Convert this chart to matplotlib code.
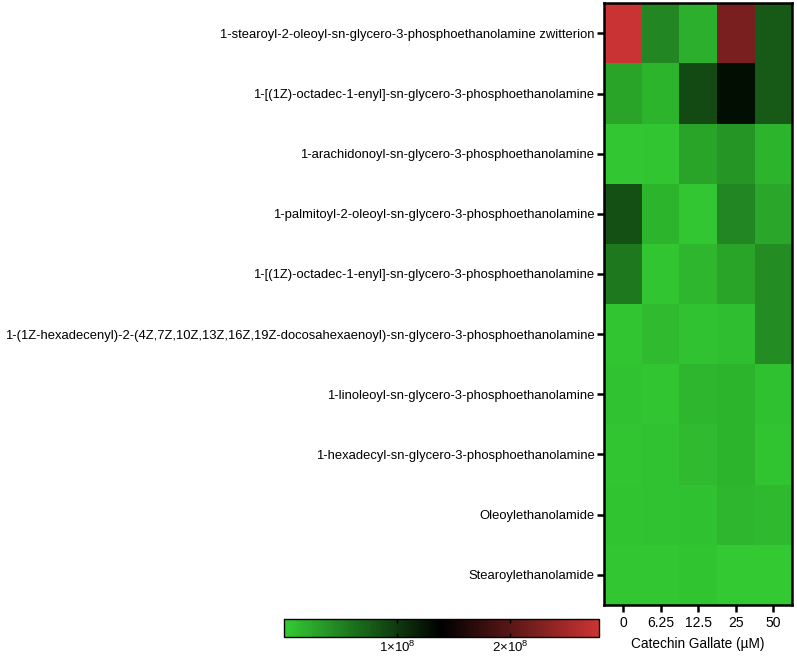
import numpy as np
import matplotlib
matplotlib.use("Agg")
import matplotlib.pyplot as plt
from matplotlib.colors import LinearSegmentedColormap

plt.rcParams['font.family'] = ['Liberation Sans', 'DejaVu Sans']
plt.rcParams['mathtext.fontset'] = 'custom'
plt.rcParams['mathtext.rm'] = 'Liberation Sans'
plt.rcParams['mathtext.it'] = 'Liberation Sans'

# lipid names (top to bottom)
lipids = [
    "1-stearoyl-2-oleoyl-sn-glycero-3-phosphoethanolamine zwitterion",
    "1-[(1Z)-octadec-1-enyl]-sn-glycero-3-phosphoethanolamine",
    "1-arachidonoyl-sn-glycero-3-phosphoethanolamine",
    "1-palmitoyl-2-oleoyl-sn-glycero-3-phosphoethanolamine",
    "1-[(1Z)-octadec-1-enyl]-sn-glycero-3-phosphoethanolamine",
    "1-(1Z-hexadecenyl)-2-(4Z,7Z,10Z,13Z,16Z,19Z-docosahexaenoyl)-sn-glycero-3-phosphoethanolamine",
    "1-linoleoyl-sn-glycero-3-phosphoethanolamine",
    "1-hexadecyl-sn-glycero-3-phosphoethanolamine",
    "Oleoylethanolamide",
    "Stearoylethanolamide",
]
doses = ["0", "6.25", "12.5", "25", "50"]

# peak intensities (x1e8), one column per dose
dose_0    = [2.76, 0.28, 0.04, 0.85, 0.57, 0.05, 0.07, 0.05, 0.06, 0.04]
dose_6_25 = [0.47, 0.17, 0.05, 0.17, 0.05, 0.13, 0.05, 0.07, 0.07, 0.04]
dose_12_5 = [0.20, 0.88, 0.28, 0.04, 0.15, 0.07, 0.15, 0.13, 0.08, 0.06]
dose_25   = [2.22, 1.30, 0.37, 0.47, 0.28, 0.10, 0.17, 0.17, 0.15, 0.03]
dose_50   = [0.78, 0.78, 0.17, 0.26, 0.44, 0.44, 0.08, 0.06, 0.14, 0.03]

data = np.column_stack([dose_0, dose_6_25, dose_12_5, dose_25, dose_50]) * 1e8

cmap = LinearSegmentedColormap.from_list("gbr", ["#33cc33", "#000000", "#cc3333"])
vmin, vmax = 0, 2.78e8

fig = plt.figure(figsize=(7.97, 6.61), dpi=100)
ax = fig.add_axes([0.758, 0.085, 0.236, 0.910])
im = ax.pcolormesh(data, cmap=cmap, vmin=vmin, vmax=vmax)
ax.set_xlim(0, 5)
ax.set_ylim(10, 0)
ax.set_xticks(np.arange(5) + 0.5)
ax.set_xticklabels(doses, fontsize=10)
ax.set_yticks(np.arange(10) + 0.5)
ax.set_yticklabels(lipids, fontsize=9.4)
ax.tick_params(axis='both', width=1.8, length=5, pad=2)
ax.tick_params(axis='x', pad=3)
for s in ax.spines.values():
    s.set_linewidth(1.8)
ax.set_xlabel("Catechin Gallate (µM)", fontsize=9.8, labelpad=5)

cax = fig.add_axes([0.356, 0.036, 0.395, 0.027])
cb = fig.colorbar(im, cax=cax, orientation='horizontal')
cb.set_ticks([1e8, 2e8])
cb.set_ticklabels([r"1$\times$10$^8$", r"2$\times$10$^8$"])
cax.tick_params(labelsize=9.5, direction='in', length=3, width=1, top=True, bottom=True, pad=2)
cb.outline.set_linewidth(1.0)

fig.savefig("out.png", dpi=100)
